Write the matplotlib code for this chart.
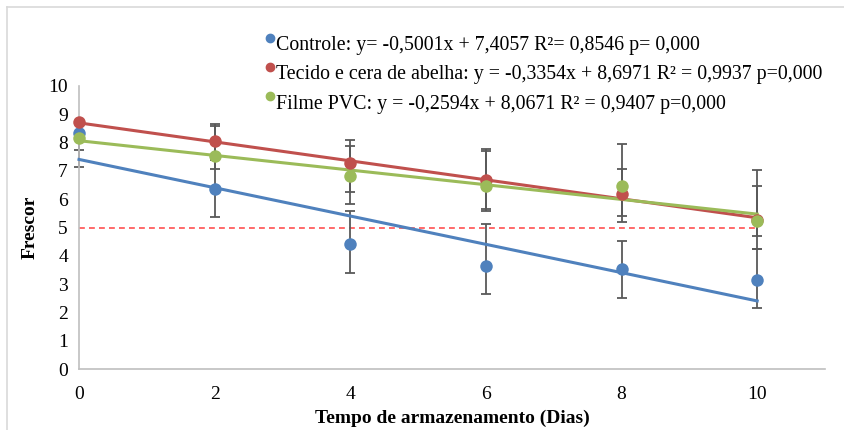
import numpy as np
import matplotlib
matplotlib.use("Agg")
import matplotlib.pyplot as plt
from matplotlib.lines import Line2D
from matplotlib.legend_handler import HandlerLine2D

plt.rcParams['font.family'] = ['Liberation Serif', 'DejaVu Serif']

# dias de armazenamento
dias = [0, 2, 4, 6, 8, 10]

# medias de frescor
controle = [8.35, 6.37, 4.40, 3.65, 3.52, 3.15]
tecido = [8.72, 8.06, 7.27, 6.68, 6.20, 5.25]
filme = [8.15, 7.53, 6.83, 6.48, 6.45, 5.24]

# barras de erro (abaixo, acima)
controle_lo = [1.20, 1.00, 1.00, 1.00, 1.00, 0.98]
controle_hi = [0.00, 1.00, 1.18, 1.49, 1.00, 1.09]
tecido_lo = [0.00, 0.60, 1.00, 1.04, 0.99, 1.01]
tecido_hi = [0.00, 0.60, 0.82, 1.08, 0.87, 1.20]
filme_lo = [0.41, 0.46, 1.00, 0.90, 1.04, 0.53]
filme_hi = [0.00, 1.04, 1.06, 1.23, 1.50, 1.78]

# regressoes lineares (inclinacao, intercepto)
coef_controle = (-0.5001, 7.4057)
coef_tecido = (-0.3354, 8.6971)
coef_filme = (-0.2594, 8.0671)

labels = [
    "Controle: y= -0,5001x + 7,4057 R²= 0,8546 p= 0,000",
    "Tecido e cera de abelha: y = -0,3354x + 8,6971 R² = 0,9937 p=0,000",
    "Filme PVC: y = -0,2594x + 8,0671 R² = 0,9407 p=0,000",
]
cores = ["#4F81BD", "#C0504D", "#9BBB59"]
limite = 5


class MarcadorAlto(HandlerLine2D):
    # marcador da legenda um pouco acima do texto, como no excel
    def create_artists(self, legend, orig_handle, xdescent, ydescent, width, height,
                       fontsize, trans):
        arts = super().create_artists(legend, orig_handle, xdescent, ydescent, width,
                                      height, fontsize, trans)
        for a in arts:
            a.set_ydata(np.asarray(a.get_ydata()) + height * 0.38)
        return arts


fig = plt.figure(figsize=(8.45, 4.30), dpi=100)
ax = fig.add_axes([79 / 845, 1 - 369 / 430, (825 - 79) / 845, (369 - 86) / 430])

# borda do grafico (estilo excel)
fig.add_artist(Line2D([7 / 845, 1], [1 - 7 / 430, 1 - 7 / 430], transform=fig.transFigure,
                      color="#d9d9d9", lw=1.2))
fig.add_artist(Line2D([7 / 845, 7 / 845], [0, 1 - 7 / 430], transform=fig.transFigure,
                      color="#d9d9d9", lw=1.2))

x = np.array(dias)
xl = np.array([min(dias), max(dias)])

ax.plot(xl, [limite, limite], color="#FF5050", lw=1.2, ls=(0, (3.5, 2.5)), zorder=1)

series = [
    (controle, controle_lo, controle_hi, coef_controle),
    (tecido, tecido_lo, tecido_hi, coef_tecido),
    (filme, filme_lo, filme_hi, coef_filme),
]
handles = []
for (y, lo, hi, coef), cor, lab in zip(series, cores, labels):
    ax.errorbar(x, y, yerr=[lo, hi], fmt="none", ecolor="#595959", elinewidth=1.3,
                capsize=3.3, capthick=1.3, zorder=2, clip_on=False)
    ax.plot(xl, coef[0] * xl + coef[1], color=cor, lw=2.2, zorder=3, clip_on=False)
    ax.plot(x, y, "o", color=cor, ms=9, mec="none", zorder=4, clip_on=False)
    handles.append(Line2D([], [], marker="o", color=cor, ls="none", ms=6, label=lab))

ax.set_xlim(0, 11)
ax.set_ylim(0, 10)
ax.set_xticks([0, 2, 4, 6, 8, 10])
ax.set_yticks(range(0, 11))
ax.tick_params(length=0, labelsize=14, pad=8)
ax.tick_params(axis="x", pad=12)
for s in ["top", "right"]:
    ax.spines[s].set_visible(False)
for s in ["left", "bottom"]:
    ax.spines[s].set_color("#bfbfbf")
    ax.spines[s].set_linewidth(1.2)

ax.set_xlabel("Tempo de armazenamento (Dias)", fontsize=14, fontweight="bold", labelpad=5)
ax.set_ylabel("Frescor", fontsize=14, fontweight="bold", labelpad=7)

leg = fig.legend(handles=handles, loc="upper left", bbox_to_anchor=(256 / 845, 1 - 26 / 430),
                 frameon=False, fontsize=14.3, handlelength=0.45, handletextpad=0.05,
                 labelspacing=0.52, borderpad=0,
                 handler_map={Line2D: MarcadorAlto()})

fig.savefig("out.png", dpi=100)
